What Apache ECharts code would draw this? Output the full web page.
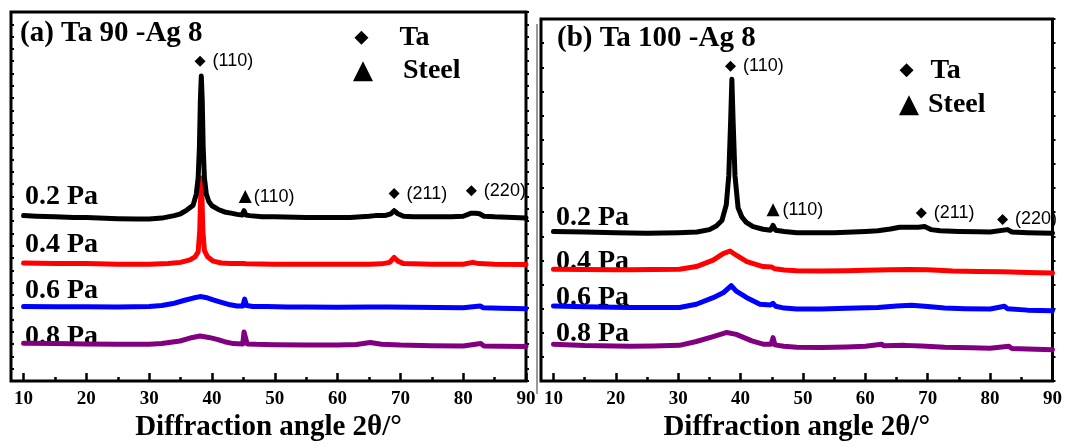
<!DOCTYPE html>
<html><head><meta charset="utf-8">
<script src="https://cdn.jsdelivr.net/npm/echarts@6/dist/echarts.min.js"></script>
<style>html,body{margin:0;padding:0;background:#fff}#c{width:1065px;height:447px}</style>
</head><body><div id="c"></div>
<script>
// ---- axis ticks ----
const xMajor = [10,20,30,40,50,60,70,80,90];
const xMinor = [15,25,35,45,55,65,75,85];
const xTitle = 'Diffraction angle 2θ/°';
const panelTitles = ['(a) Ta 90 -Ag 8', '(b) Ta 100 -Ag 8'];
const pressures = ['0.2 Pa','0.4 Pa','0.6 Pa','0.8 Pa'];

// ---- panel (a) traces: [2θ, intensity a.u. incl. offset] ----
const a02 = [[10,134.5],[12,134],[15,133.5],[18,133],[20,133],[22,132.5],[25,132],[28,131.7],[30,131.8],[32,132.5],[34,134.5],[35,136],[36,139],[37,143],[37.5,152],[37.8,165],[38.0,190],[38.15,228],[38.3,248],[38.45,228],[38.6,190],[38.8,165],[39.1,152],[39.5,146],[40,142.5],[41,139.5],[42,137.5],[43,136.5],[44,135.5],[44.8,135],[45.1,138.5],[45.4,135],[46,134.5],[48,133.5],[50,133.5],[55,133],[60,133],[62,133],[65,134],[66,134.5],[67.5,134.5],[68.5,136],[69.0,138.5],[69.6,136],[70.5,134],[72,133.5],[75,133.5],[78,133.5],[80,134],[81.3,136.5],[82,136.5],[82.6,136],[83.3,134],[85,133.5],[88,133],[90,132.5]];
const a04 = [[10,96],[15,95.5],[20,95.5],[25,95],[30,95],[33,95.5],[35,96.5],[36.5,98.5],[37.3,101],[37.8,105],[38.05,122],[38.2,150],[38.3,165],[38.4,150],[38.55,122],[38.8,106],[39.3,101],[40.2,97.5],[41.5,96],[43,95.5],[45,95.5],[45.2,96.8],[45.4,95.3],[50,95],[55,95],[60,95],[65,95],[67,95.3],[68.3,96.5],[69.0,100.5],[69.6,97.5],[70.5,95.5],[75,95],[80,95],[81.5,96.5],[82.5,95.5],[85,95],[90,94.8]];
const a06 = [[10,60.7],[15,60.5],[20,60.5],[25,60.3],[30,60.7],[32,61.5],[33.8,63],[35.5,65.5],[37,67.5],[38.1,68.7],[39,68],[40.2,66],[41.5,64],[42.9,62],[44,61],[44.9,61],[45.2,66.6],[45.5,61.5],[46.5,60.7],[48.7,60.7],[52,60.3],[55,60.3],[60,60],[65,60.3],[68,60.3],[72,60],[76,59.8],[80,59.7],[82.7,61],[83.2,59.7],[86,59.3],[90,58.8]];
const a08 = [[10,30.7],[15,30.5],[20,30.2],[25,30],[30,29.9],[32,30.5],[34.9,32.6],[36.5,35],[38.1,36.7],[39.5,35.5],[40.8,33.9],[42,32],[43.4,30.5],[44.9,30.2],[45.1,39.9],[45.4,39],[45.6,30.2],[47,29.9],[50,29.6],[55,29.4],[60,29.4],[63,29.8],[65.2,31.3],[67,30],[70,29.3],[75,28.8],[80,28.6],[82.8,30.5],[83.3,28.6],[86,28.3],[90,28.1]];

// ---- panel (b) traces ----
const b02 = [[10,124],[15,123.5],[20,123],[25,122.5],[30,123],[33,123.5],[35,125.5],[36.1,128.5],[37,133],[37.7,146],[38.1,170],[38.4,215],[38.6,250],[38.8,215],[39.1,170],[39.6,143.5],[40.2,136],[40.9,131.5],[42,128],[43.6,125.8],[44.8,125],[45.2,129],[45.6,125],[47,124],[49,123],[52,123],[55,123],[58,123.5],[60,124],[62,124.5],[64,126],[65.5,127.5],[67,127.5],[68.5,127.5],[69.5,128],[70.5,125.5],[72,124.5],[75,124],[78,123.8],[80,123.5],[82.8,125.5],[83.5,123.5],[86,123],[90,122.5]];
const b04 = [[10,92.7],[15,92.5],[20,92.3],[22.3,92.2],[26,92.4],[30.2,92.7],[32.9,94.9],[35.6,100.2],[37.2,105.6],[38.3,107.8],[39.3,104.3],[41,99],[43.6,94.9],[45,94.5],[45.2,96],[45.5,93],[47,92],[49,91.4],[53,91.2],[57,91.5],[60,91.8],[64,92.2],[67,92.4],[70,92.2],[74,91.2],[78,90.8],[82,90.5],[86,90],[90,89.5]];
const b06 = [[10,62.3],[15,61.5],[22.3,61],[26,61],[30.2,61],[32.9,63.7],[35.6,69.1],[37.2,73.1],[38.5,79],[39.3,74.5],[41,69.1],[43.1,63.7],[44.8,63],[45.2,64.5],[45.6,62],[47,60.5],[49,59.7],[53,59.8],[57,60.3],[62,61],[65,62.3],[67.4,62.9],[70,61.8],[72.7,60.5],[76,60],[80,59.8],[82.3,62],[82.8,60],[86,58.8],[90,58.3]];
const b08 = [[10,30.6],[15,29.5],[22.3,28.8],[26,29],[30.2,29.6],[32.9,32.8],[35.6,36.8],[37.8,40.3],[39.3,38.7],[41.8,33.3],[43.6,30.6],[44.9,30.5],[45.2,36],[45.5,30],[46.9,28.8],[49,28],[53,27.8],[57,28.2],[60,28.8],[62.6,30.6],[63,29.2],[66.3,29.6],[69,29],[72.7,28],[77,27.6],[80,27.2],[83,28.8],[83.5,27],[86,26.6],[90,26]];

// ---- peak annotations [2θ, intensity, label] ----
const annATa = [[38.1,259.9,'(110)'],[69.0,152.4,'(211)'],[81.3,154.8,'(220)']];
const annASteel = [[45.3,150,'(110)']];
const annBTa = [[38.38,260.8,'(110)'],[68.97,139.3,'(211)'],[82.0,133.9,'(220)']];
const annBSteel = [[45.2,141.9,'(110)']];
// ---- key entries [2θ, intensity, label] ----
const keyATa = [63.8,279,'Ta'];
const keyASteel = [64.05,251.9,'Steel'];
const keyBTa = [66.6,257.5,'Ta'];
const keyBSteel = [67.0,228.6,'Steel'];

const colors = ['#000000','#ff0000','#0000ff','#800080'];
const serif = '"Liberation Serif","Times New Roman",serif';
const sans = '"Liberation Sans",Arial,sans-serif';

const chart = echarts.init(document.getElementById('c'), null, {renderer:'canvas'});

function xAxes(gi, gap){
  return [
    {gridIndex:gi, type:'value', min:8, max:90, position:'bottom',
     axisLine:{show:false}, splitLine:{show:false},
     axisTick:{inside:true, length:8, lineStyle:{color:'#000', width:2.5}, customValues:xMajor},
     axisLabel:{customValues:xMajor, margin:8, color:'#000', fontFamily:serif, fontWeight:'bold', fontSize:19},
     name:xTitle, nameLocation:'middle', nameGap:gap,
     nameTextStyle:{color:'#000', fontFamily:serif, fontWeight:'bold', fontSize:29}},
    {gridIndex:gi, type:'value', min:8, max:90, position:'bottom',
     axisLine:{show:false}, splitLine:{show:false}, axisLabel:{show:false},
     axisTick:{inside:true, length:4, lineStyle:{color:'#000', width:2.5}, customValues:xMinor}}
  ];
}
function yAxes(gi, interval){
  return [
    {gridIndex:gi, type:'value', min:0, max:300, interval:interval, position:'left',
     axisLine:{show:false}, splitLine:{show:false}, axisLabel:{show:false},
     axisTick:{inside:true, length:3, lineStyle:{color:'#000', width:2}}},
    {gridIndex:gi, type:'value', min:0, max:300, interval:interval, position:'right',
     axisLine:{show:false}, splitLine:{show:false}, axisLabel:{show:false},
     axisTick:{inside:false, length:3, lineStyle:{color:'#000', width:2}}}
  ];
}
function line(gi, data, color){
  return {type:'line', xAxisIndex:gi*2, yAxisIndex:gi*2, data:data, showSymbol:false, symbol:'none',
    silent:true, animation:false,
    lineStyle:{color:color, width:5, cap:'round', join:'round'}};
}
function ann(gi, arr, symbol, size, dist){
  return {type:'scatter', xAxisIndex:gi*2, yAxisIndex:gi*2, symbol:symbol, symbolSize:size,
    itemStyle:{color:'#000', opacity:1}, silent:true, animation:false,
    data: arr.map(d=>({value:[d[0],d[1]], name:d[2]})),
    label:{show:true, position:'right', distance:dist, formatter:'{b}', color:'#000', opacity:1,
      fontFamily:sans, fontSize:18}};
}
function key(gi, d, symbol, size, dist){
  return {type:'scatter', xAxisIndex:gi*2, yAxisIndex:gi*2, symbol:symbol, symbolSize:size,
    itemStyle:{color:'#000', opacity:1}, silent:true, animation:false,
    data:[{value:[d[0],d[1]], name:d[2]}],
    label:{show:true, position:'right', distance:dist, formatter:'{b}', color:'#000', opacity:1,
      fontFamily:serif, fontWeight:'bold', fontSize:28}};
}

const pressA = [197,245,291,337];
const pressB = [218,262,298,334];
const graphics = [];
pressures.forEach((p,i)=>{
  graphics.push({type:'text', x:25, y:pressA[i], style:{text:p, fill:'#000', font:'bold 28px '+serif, verticalAlign:'middle'}});
  graphics.push({type:'text', x:556, y:pressB[i], style:{text:p, fill:'#000', font:'bold 28px '+serif, verticalAlign:'middle'}});
});
graphics.push({type:'text', x:20, y:34, style:{text:panelTitles[0], fill:'#000', font:'bold 29px '+serif, verticalAlign:'middle'}});
graphics.push({type:'text', x:557, y:39, style:{text:panelTitles[1], fill:'#000', font:'bold 29px '+serif, verticalAlign:'middle'}});
graphics.push({type:'line', shape:{x1:537, y1:24, x2:537, y2:394}, style:{stroke:'#555', lineWidth:1.2}});

const option = {
  backgroundColor:'#fff',
  animation:false,
  grid:[
    {left:11, top:12, width:515, height:374, show:true, borderColor:'#000', borderWidth:3, backgroundColor:'transparent'},
    {left:541, top:19, width:512, height:372, show:true, borderColor:'#000', borderWidth:3, backgroundColor:'transparent'}
  ],
  xAxis:[...xAxes(0,29), ...xAxes(1,28)],
  yAxis:[...yAxes(0,10), ...yAxes(1,20)],
  series:[
    line(0,a08,colors[3]), line(0,a06,colors[2]), line(0,a04,colors[1]), line(0,a02,colors[0]),
    line(1,b08,colors[3]), line(1,b06,colors[2]), line(1,b04,colors[1]), line(1,b02,colors[0]),
    ann(0,annATa,'diamond',11,7), ann(0,annASteel,'triangle',13,2),
    ann(1,annBTa,'diamond',11,7), ann(1,annBSteel,'triangle',13,3),
    key(0,keyATa,'diamond',14,31), key(0,keyASteel,'triangle',20,30),
    key(1,keyBTa,'diamond',14,17), key(1,keyBSteel,'triangle',20,9)
  ],
  graphic:graphics
};
chart.setOption(option);
</script></body></html>
